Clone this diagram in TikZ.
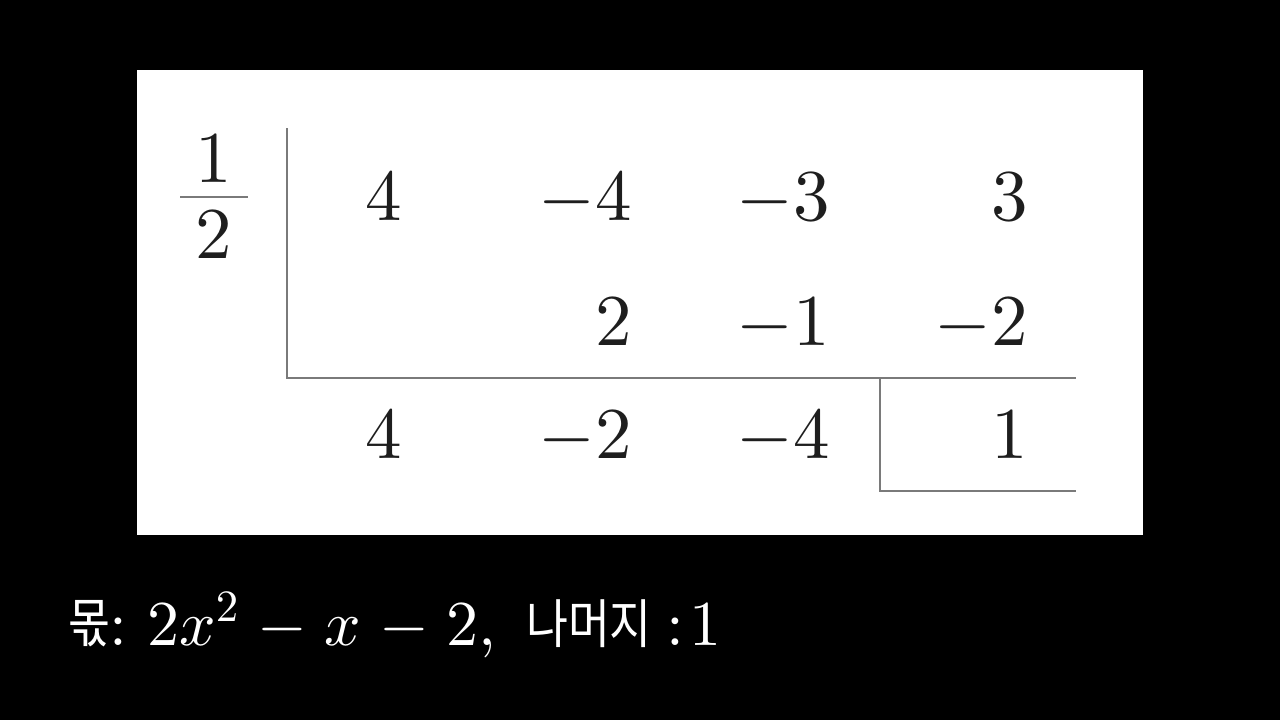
\documentclass[tikz,border=0pt]{standalone}
\usepackage{fontspec}
\DeclareFontShape{OT1}{cmr}{m}{n}{<->cmr10}{}
\DeclareFontShape{OML}{cmm}{m}{it}{<->cmmi10}{}
\DeclareFontShape{OMS}{cmsy}{m}{n}{<->cmsy10}{}
\newfontfamily\kr{Noto Sans CJK KR}
\newcommand{\narrowkr}[1]{\scalebox{0.86}[1]{#1}}
\definecolor{ink}{HTML}{1E1E1E}
\definecolor{rule}{HTML}{7A7A7A}
\tikzset{
  num/.style={anchor=base east, inner sep=0pt, text=ink, font=\fontsize{36.5}{40}\selectfont},
  fracnum/.style={anchor=base, inner sep=0pt, text=ink, font=\fontsize{36.5}{40}\selectfont},
  rl/.style={draw=rule, line width=1.2pt},
  capmath/.style={anchor=base west, inner sep=0pt, text=white, font=\fontsize{32}{36}\selectfont},
  capsym/.style={anchor=base, inner sep=0pt, text=white, font=\fontsize{32}{36}\selectfont},
  capkr/.style={anchor=center, inner sep=0pt, text=white, font=\kr\fontsize{26.5}{30}\selectfont}
}
\begin{document}
\begin{tikzpicture}[x=0.5pt,y=-0.5pt]
\useasboundingbox (0,0) rectangle (1280,720);
\fill[black] (0,0) rectangle (1280,720);
\fill[white] (137,70) rectangle (1143,535);
% divisor 1/2
\node[fracnum] (n1) at (214,182) {$1$};
\node[fracnum] (d2) at (214,258) {$2$};
\draw[draw=rule, line width=1pt] (180,197) -- (248,197);
% lines
\draw[rl] (287,128) -- (287,378) -- (1076,378);
\draw[rl] (880,378) -- (880,491) -- (1076,491);
% row 1
\node[num] (a1) at (402,220) {$4$};
\node[num] (a2) at (632,220) {$-4$};
\node[num] (a3) at (830,220) {$-3$};
\node[num] (a4) at (1028,220) {$3$};
% row 2
\node[num] (b2) at (632,345) {$2$};
\node[num] (b3) at (830,345) {$-1$};
\node[num] (b4) at (1028,345) {$-2$};
% row 3
\node[num] (c1) at (402,458) {$4$};
\node[num] (c2) at (632,458) {$-2$};
\node[num] (c3) at (830,458) {$-4$};
\node[num] (c4) at (1028,458) {$1$};
% caption
\node[capkr] (q) at (89,624) {\narrowkr{몫}};
\node[capsym] (qc) at (118,645) {${:}$};
\node[capmath] (qm) at (147,645) {$\medmuskip=5mu\relax 2x^2-x-2,$};
\node[capkr] (r) at (589,624) {\narrowkr{나머지}};
\node[capsym] (rc) at (675,645) {${:}$};
\node[capsym] (rv) at (705,645) {$1$};
\end{tikzpicture}
\end{document}
